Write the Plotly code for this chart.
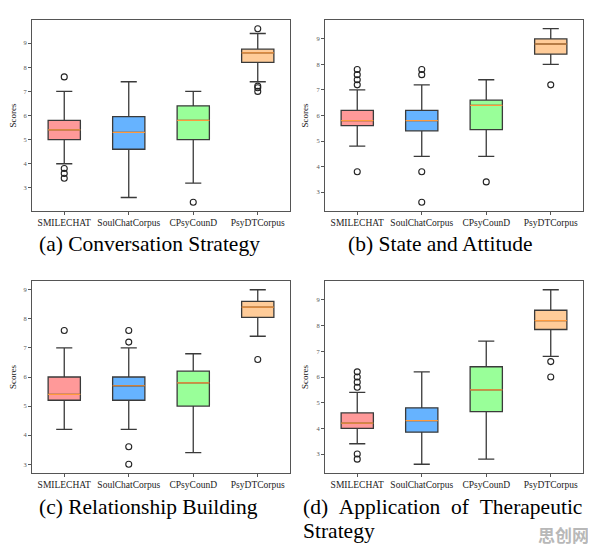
import plotly.graph_objects as go

# corpora shown on every panel
categories = ['SMILECHAT', 'SoulChatCorpus', 'CPsyCounD', 'PsyDTCorpus']
box_colors = ['#ff9999', '#66b3ff', '#99ff99', '#ffcc99']

# (a) Conversation Strategy
a_q1 = [5.0, 4.6, 5.0, 8.2]
a_median = [5.4, 5.3, 5.8, 8.6]
a_q3 = [5.8, 5.95, 6.4, 8.75]
a_low = [4.0, 2.6, 3.2, 7.4]
a_high = [7.0, 7.4, 7.0, 9.4]
a_outliers = [[7.6, 3.8, 3.6, 3.4], [], [2.4], [9.6, 7.22, 7.15, 7.0]]

# (b) State and Attitude
b_q1 = [5.6, 5.4, 5.45, 8.4]
b_median = [5.8, 5.8, 6.4, 8.8]
b_q3 = [6.2, 6.2, 6.6, 9.0]
b_low = [4.8, 4.4, 4.4, 8.0]
b_high = [7.0, 7.2, 7.4, 9.4]
b_outliers = [[7.8, 7.6, 7.4, 7.2, 3.8], [7.8, 7.6, 3.8, 2.6], [3.4], [7.2]]

# (c) Relationship Building
c_q1 = [5.2, 5.2, 5.0, 8.05]
c_median = [5.4, 5.7, 5.8, 8.4]
c_q3 = [6.0, 6.0, 6.2, 8.6]
c_low = [4.2, 4.2, 3.4, 7.4]
c_high = [7.0, 7.0, 6.8, 9.0]
c_outliers = [[7.6], [7.6, 7.2, 3.6, 3.0], [], [6.6]]

# (d) Application of Therapeutic Strategy
d_q1 = [4.0, 3.85, 4.65, 7.85]
d_median = [4.2, 4.3, 5.5, 8.2]
d_q3 = [4.6, 4.8, 6.4, 8.6]
d_low = [3.4, 2.6, 2.8, 6.8]
d_high = [5.4, 6.2, 7.4, 9.4]
d_outliers = [[6.2, 6.0, 5.8, 5.6, 3.0, 2.8], [], [], [6.6, 6.0]]

panels = [
    (a_q1, a_median, a_q3, a_low, a_high, a_outliers),
    (b_q1, b_median, b_q3, b_low, b_high, b_outliers),
    (c_q1, c_median, c_q3, c_low, c_high, c_outliers),
    (d_q1, d_median, d_q3, d_low, d_high, d_outliers),
]

W, H = 596, 547
SERIF = 'Liberation Serif'
BOX_W = 0.5

# pixel frames of the four axes: left, right, top, bottom
frames = [(24, 282, 12, 203), (317, 575, 12, 203),
          (24, 282, 273, 465), (317, 575, 273, 465)]

fig = go.Figure()
positions = [1, 2, 3, 4]

for i, (q1, med, q3, lo, hi, outs) in enumerate(panels):
    ax = '' if i == 0 else str(i + 1)
    xr, yr = 'x' + ax, 'y' + ax
    for j, pos in enumerate(positions):
        fig.add_trace(go.Box(
            x=[pos], q1=[q1[j]], median=[med[j]], q3=[q3[j]],
            lowerfence=[lo[j]], upperfence=[hi[j]],
            width=BOX_W, whiskerwidth=0.5, boxpoints=False,
            fillcolor=box_colors[j], line=dict(color='#3a3a3a', width=1.3),
            xaxis=xr, yaxis=yr, showlegend=False, hoverinfo='skip'))
        # matplotlib style orange median line
        fig.add_trace(go.Scatter(
            x=[pos - BOX_W / 2, pos + BOX_W / 2], y=[med[j], med[j]],
            mode='lines', line=dict(color='#ff9a3c', width=1.2),
            xaxis=xr, yaxis=yr, showlegend=False, hoverinfo='skip'))
        if outs[j]:
            fig.add_trace(go.Scatter(
                x=[pos] * len(outs[j]), y=outs[j], mode='markers',
                marker=dict(symbol='circle-open', size=6, color='#222',
                            line=dict(width=1.1)),
                xaxis=xr, yaxis=yr, showlegend=False, hoverinfo='skip'))

    all_vals = lo + hi + [v for o in outs for v in o]
    vmin, vmax = min(all_vals), max(all_vals)
    pad = (vmax - vmin) * 0.05

    left, right, top, bottom = frames[i]
    fig.layout['xaxis' + ax] = dict(
        domain=[left / W, right / W], anchor=yr, range=[0.5, 4.5],
        tickvals=positions, ticktext=categories,
        tickfont=dict(family=SERIF, size=9.5, color='#222'),
        showline=True, mirror=True, linecolor='#555', linewidth=1,
        ticks='outside', ticklen=3, tickcolor='#555',
        showgrid=False, zeroline=False)
    fig.layout['yaxis' + ax] = dict(
        domain=[1 - bottom / H, 1 - top / H], anchor=xr,
        range=[vmin - pad, vmax + pad], dtick=1,
        tickfont=dict(family=SERIF, size=6.5, color='#555'),
        title=dict(text='Scores', font=dict(family=SERIF, size=9, color='#222'),
                   standoff=6),
        showline=True, mirror=True, linecolor='#555', linewidth=1,
        ticks='outside', ticklen=3, tickcolor='#555',
        showgrid=False, zeroline=False)

captions = ['(a) Conversation Strategy', '(b) State and Attitude',
            '(c) Relationship Building',
            '(d)\u00a0\u00a0Application\u00a0\u00a0of\u00a0\u00a0Therapeutic', 'Strategy']
caption_pos = [(29, 236), (338, 236), (29, 499), (293, 499), (293, 523)]

for text, (px, py) in zip(captions, caption_pos):
    fig.add_annotation(text=text, x=px / W, y=1 - py / H, xref='paper', yref='paper',
                       xanchor='left', yanchor='middle', showarrow=False,
                       font=dict(family=SERIF, size=21.5, color='black'))

# site watermark in the corner
fig.add_annotation(text='<b>思创网</b>', x=583 / W, y=1 - 526 / H, xref='paper', yref='paper',
                   xanchor='right', yanchor='middle', showarrow=False,
                   font=dict(family='Noto Sans CJK SC', size=17, color='#b8b8b8'))

fig.update_layout(width=W, height=H, margin=dict(l=0, r=0, t=0, b=0),
                  paper_bgcolor='white', plot_bgcolor='white')

fig.write_html("out.html")
